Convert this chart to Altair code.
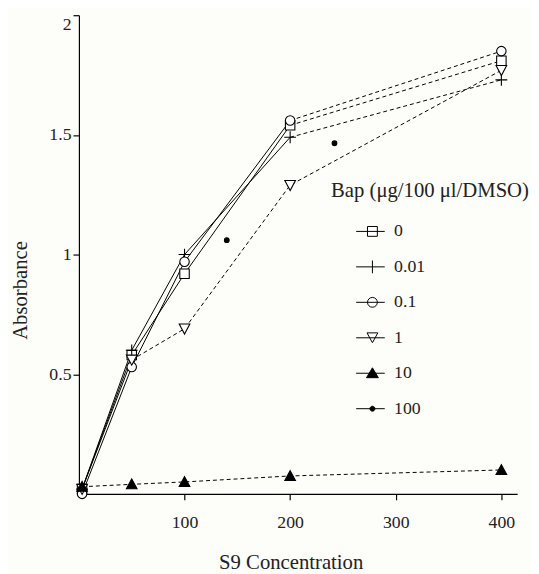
import altair as alt
import pandas as pd

# ---- data ----
conc = [3, 50, 100, 200, 400]
series_names = ["0", "0.01", "0.1", "1", "10", "100"]
abs_0 = [0.02, 0.58, 0.92, 1.54, 1.81]
abs_001 = [0.02, 0.60, 1.00, 1.49, 1.73]
abs_01 = [0.00, 0.53, 0.97, 1.56, 1.85]
abs_1 = [0.02, 0.56, 0.69, 1.29, 1.77]
abs_10 = [0.03, 0.04, 0.05, 0.075, 0.10]
conc_100 = [140, 242]
abs_100 = [1.06, 1.465]
x_ticks = [100, 200, 300, 400]
y_ticks = [0.5, 1, 1.5, 2]

# concentration from which each line is drawn dashed
dash_from = {"0": 200, "0.01": 200, "0.1": 200, "1": 50, "10": 3}

rows = []
for name, vals in zip(series_names[:5], [abs_0, abs_001, abs_01, abs_1, abs_10]):
    for c, v in zip(conc, vals):
        rows.append({"series": name, "conc": c, "absorbance": v, "dash_from": dash_from[name]})
for c, v in zip(conc_100, abs_100):
    rows.append({"series": "100", "conc": c, "absorbance": v, "dash_from": 9999})
df = pd.DataFrame(rows)
line_df = df[df["series"] != "100"]
solid_df = line_df[line_df["conc"] <= line_df["dash_from"]]
dash_df = line_df[line_df["conc"] >= line_df["dash_from"]]

FONT = "Liberation Serif"

xs = alt.Scale(domain=[0, 415], nice=False)
ys = alt.Scale(domain=[0, 2], nice=False)
X = alt.X("conc:Q", scale=xs,
          axis=alt.Axis(values=x_ticks, title="S9 Concentration", titleX=215, titleY=70,
                        titleBaseline="middle", labelPadding=14, tickSize=6))
Y = alt.Y("absorbance:Q", scale=ys,
          axis=alt.Axis(values=y_ticks, format="~g", title="Absorbance", titleX=-59, titleY=279,
                        titleBaseline="middle", labelFlush=True, labelPadding=2, tickSize=6))

solid = alt.Chart(solid_df).mark_line(color="black", strokeWidth=1).encode(
    x=X, y=Y, detail="series:N", order="conc:Q")
dashed = alt.Chart(dash_df).mark_line(color="black", strokeWidth=1, strokeDash=[4, 3]).encode(
    x=X, y=Y, detail="series:N", order="conc:Q")

marker_paths = [
    "M-0.8,-0.8H0.8V0.8H-0.8Z",
    "M-1,0H1M0,-1V1",
    "M-0.8,0A0.8,0.8 0 1,0 0.8,0A0.8,0.8 0 1,0 -0.8,0",
    "M-0.9,-0.8H0.9L0,0.9Z",
    "M-0.9,0.75H0.9L0,-0.9Z",
    "M-0.4,0A0.4,0.4 0 1,0 0.4,0A0.4,0.4 0 1,0 -0.4,0",
]
fills = ["white", "white", "white", "white", "black", "black"]

points = alt.Chart(df).mark_point(filled=True, stroke="black", strokeWidth=1.1, size=144, opacity=1).encode(
    x=X, y=Y,
    shape=alt.Shape("series:N", scale=alt.Scale(domain=series_names, range=marker_paths), legend=None),
    fill=alt.Fill("series:N", scale=alt.Scale(domain=series_names, range=fills), legend=None),
)

LINE = "M-1,0M1.5,0H4.4"
legend_paths = [
    LINE + "M2.65,-0.5H3.65V0.5H2.65Z",
    LINE + "M3.15,-0.65V0.65",
    LINE + "M2.65,0A0.5,0.5 0 1,0 3.65,0A0.5,0.5 0 1,0 2.65,0",
    LINE + "M2.6,-0.5H3.7L3.15,0.5Z",
    LINE + "M2.55,0.45H3.75L3.15,-0.55Z",
    LINE + "M2.9,0A0.25,0.25 0 1,0 3.4,0A0.25,0.25 0 1,0 2.9,0",
]
LEG_TITLE = "Bap (μg/100 μl/DMSO)"
leg = dict(title=LEG_TITLE, orient="none", legendX=256, legendY=168, padding=0,
           symbolSize=400, symbolStrokeWidth=1, symbolOpacity=1,
           labelOffset=43, rowPadding=16, titlePadding=20, titleLimit=400, labelLimit=200,
           labelFont=FONT, labelFontSize=18, labelColor="#222",
           titleFont=FONT, titleFontSize=21, titleFontWeight="normal", titleColor="#222",
           labelBaseline="middle")
legend_layer = alt.Chart(df).mark_point(filled=True, stroke="black", strokeWidth=1, opacity=0).encode(
    x=X, y=Y,
    shape=alt.Shape("series:N", scale=alt.Scale(domain=series_names, range=legend_paths),
                    legend=alt.Legend(**leg)),
    fill=alt.Fill("series:N", scale=alt.Scale(domain=series_names, range=fills),
                  legend=alt.Legend(**leg)),
)

chart = alt.layer(solid, dashed, points, legend_layer).resolve_scale(
    shape="independent", fill="independent"
).properties(
    width=445, height=486,
    autosize=alt.AutoSizeParams(type="none"),
    padding={"left": 72, "top": 3, "right": 14, "bottom": 77},
    background="#fdfdf9",
).configure_view(stroke=None).configure_axis(
    grid=False, domainColor="black", tickColor="black", domainWidth=1.2, tickWidth=1.2,
    labelFont=FONT, labelFontSize=18, labelColor="#222",
    titleFont=FONT, titleFontSize=21, titleFontWeight="normal", titleColor="#222",
)

chart.save("out.html", embed_options={"renderer": "svg", "actions": False})
